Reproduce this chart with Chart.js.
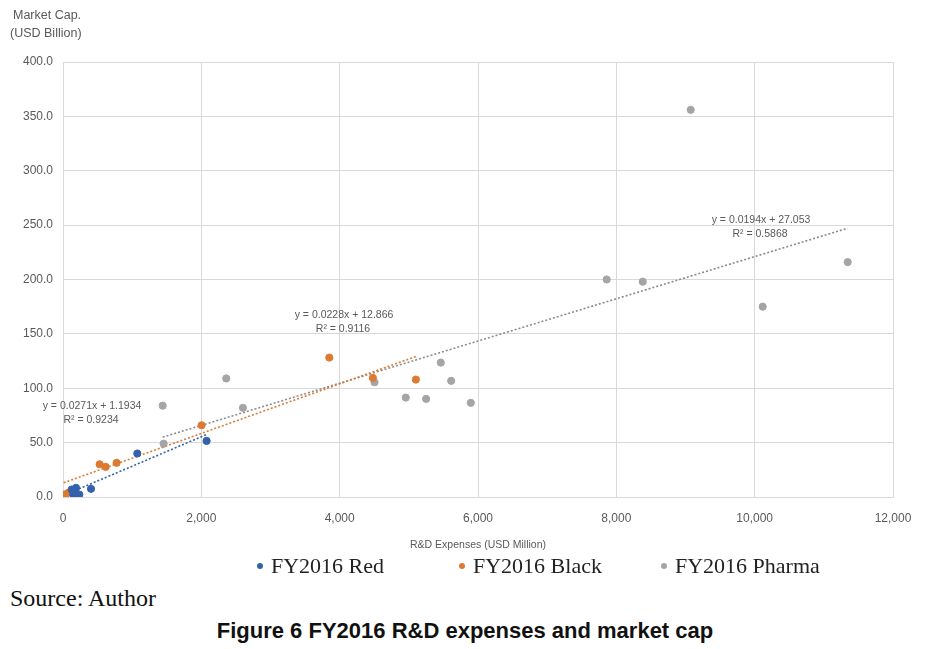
<!DOCTYPE html>
<html lang="en">
<head>
    <meta charset="UTF-8">
    <title>FY2016 R&amp;D expenses and market cap</title>
    <script src="https://cdn.jsdelivr.net/npm/chart.js@4.4.1/dist/chart.umd.min.js"></script>
    <style>
        body { margin: 0; background: #fff; width: 930px; height: 649px; position: relative; overflow: hidden; }
        #chartBox { position: absolute; left: 0; top: 0; width: 930px; height: 556px; }
        .legend { position: absolute; top: 553px; font-family: "Liberation Serif", serif; font-size: 22px; color: #222; white-space: nowrap; }
        .legend span.dot { display: inline-block; width: 6px; height: 6px; border-radius: 50%; margin-right: 8px; vertical-align: middle; position: relative; top: -2px; }
        .source { position: absolute; left: 10px; top: 585px; font-family: "Liberation Serif", serif; font-size: 24px; color: #111; }
        .caption { position: absolute; left: 0; width: 930px; top: 618px; text-align: center; font-family: "Liberation Sans Narrow", "Liberation Sans", sans-serif; font-weight: bold; font-size: 22px; color: #111; }
    </style>
</head>
<body>
    <div id="chartBox"><canvas id="rdChart" width="930" height="556"></canvas></div>

    <div class="legend" style="left:257px;"><span class="dot" style="background:#3461ab"></span>FY2016 Red</div>
    <div class="legend" style="left:459px;"><span class="dot" style="background:#dd7a32"></span>FY2016 Black</div>
    <div class="legend" style="left:661px;"><span class="dot" style="background:#a5a5a5"></span>FY2016 Pharma</div>

    <div class="source">Source: Author</div>
    <div class="caption">Figure 6 FY2016 R&amp;D expenses and market cap</div>

    <script>
        // R&D expenses (USD million) / market cap (USD billion)
        const redX = [125, 149, 178, 188, 197, 236, 405, 1074, 2076];
        const redY = [6.9, 2.3, 4.5, 8.4, 0.8, 2.3, 7.5, 40.0, 51.6];

        const blackX = [10, 39, 77, 530, 617, 775, 2004, 3850, 4480, 5102];
        const blackY = [1.4, 2.6, 3.9, 30.1, 27.7, 31.4, 66.0, 128.2, 109.5, 108.0];

        const pharmaX = [1441, 1455, 2360, 2601, 4504, 4956, 5250, 5462, 5612, 5896, 7861, 8382, 9075, 10116, 11345];
        const pharmaY = [84.0, 49.0, 109.0, 82.0, 105.5, 91.4, 90.2, 123.6, 106.8, 86.6, 200.0, 198.0, 356.0, 175.0, 216.0];

        // trendline slope / intercept / R² as printed on the chart
        const redTrend = [0.0271, 1.1934, 0.9234];
        const blackTrend = [0.0228, 12.866, 0.9116];
        const pharmaTrend = [0.0194, 27.053, 0.5868];

        const xTicks = [0, 2000, 4000, 6000, 8000, 10000, 12000];
        const yTicks = [0, 50, 100, 150, 200, 250, 300, 350, 400];

        const toPoints = (xs, ys) => xs.map((x, i) => ({ x: x, y: ys[i] }));
        const trendPoints = (xs, t) => {
            const lo = Math.min(...xs), hi = Math.max(...xs);
            return [{ x: lo, y: t[0] * lo + t[1] }, { x: hi, y: t[0] * hi + t[1] }];
        };

        const BLUE = '#3461ab', ORANGE = '#dd7a32', GRAY = '#a5a5a5';
        const TEXT = '#595959', GRID = '#d9d9d9';

        const trendLine = (pts, color) => ({
            type: 'line', data: pts, borderColor: color, borderWidth: 1.6,
            borderDash: [2, 2], pointRadius: 0, fill: false, order: 2
        });
        const dots = (pts, color) => ({
            data: pts, backgroundColor: color, borderColor: color,
            pointRadius: 3.6, pointHoverRadius: 3.6, order: 1
        });

        // trend equation labels + y axis title
        const labelsPlugin = {
            id: 'labels',
            afterDraw(chart) {
                const c = chart.ctx;
                const fmt = t => 'y = ' + t[0] + 'x + ' + t[1];
                const items = [
                    [redTrend, 92, 406],
                    [blackTrend, 344, 315],
                    [pharmaTrend, 761, 220]
                ];
                c.save();
                c.fillStyle = TEXT;
                c.font = '10.5px "Liberation Sans", sans-serif';
                c.textAlign = 'center';
                c.textBaseline = 'middle';
                items.forEach(([t, x, y]) => {
                    c.fillText(fmt(t), x, y);
                    c.fillText('R\u00b2 = ' + t[2], x - 1, y + 14);
                });
                c.textAlign = 'left';
                c.font = '12.5px "Liberation Sans", sans-serif';
                c.fillText('Market Cap.', 13, 16);
                c.fillText('(USD Billion)', 10, 34);
                c.restore();
            }
        };

        new Chart(document.getElementById('rdChart'), {
            type: 'scatter',
            data: {
                datasets: [
                    trendLine(trendPoints(redX, redTrend), BLUE),
                    trendLine(trendPoints(blackX, blackTrend), ORANGE),
                    trendLine(trendPoints(pharmaX, pharmaTrend), '#8c8c8c'),
                    dots(toPoints(redX, redY), BLUE),
                    dots(toPoints(blackX, blackY), ORANGE),
                    dots(toPoints(pharmaX, pharmaY), GRAY)
                ]
            },
            options: {
                responsive: false,
                animation: false,
                layout: { padding: { top: 62, right: 37, left: 0, bottom: 0 } },
                plugins: { legend: { display: false }, tooltip: { enabled: false } },
                scales: {
                    x: {
                        type: 'linear', min: 0, max: 12000,
                        afterBuildTicks: s => { s.ticks = xTicks.map(v => ({ value: v })); },
                        afterFit: s => { s.height = 59; },
                        grid: { color: GRID, drawTicks: false },
                        border: { color: GRID },
                        ticks: {
                            padding: 14, color: TEXT, maxRotation: 0,
                            font: { family: 'Liberation Sans', size: 12 },
                            callback: v => v.toLocaleString('en-US')
                        },
                        title: {
                            display: true, text: 'R&D Expenses (USD Million)', color: TEXT,
                            font: { family: 'Liberation Sans', size: 10.5 },
                            padding: { top: 0, bottom: 5 }
                        }
                    },
                    y: {
                        type: 'linear', min: 0, max: 400,
                        afterBuildTicks: s => { s.ticks = yTicks.map(v => ({ value: v })); },
                        afterFit: s => { s.width = 63; },
                        grid: { color: GRID, drawTicks: false },
                        border: { color: GRID },
                        ticks: {
                            padding: 10, color: TEXT,
                            font: { family: 'Liberation Sans', size: 12 },
                            callback: v => v.toFixed(1)
                        }
                    }
                }
            },
            plugins: [labelsPlugin]
        });
    </script>
</body>
</html>
